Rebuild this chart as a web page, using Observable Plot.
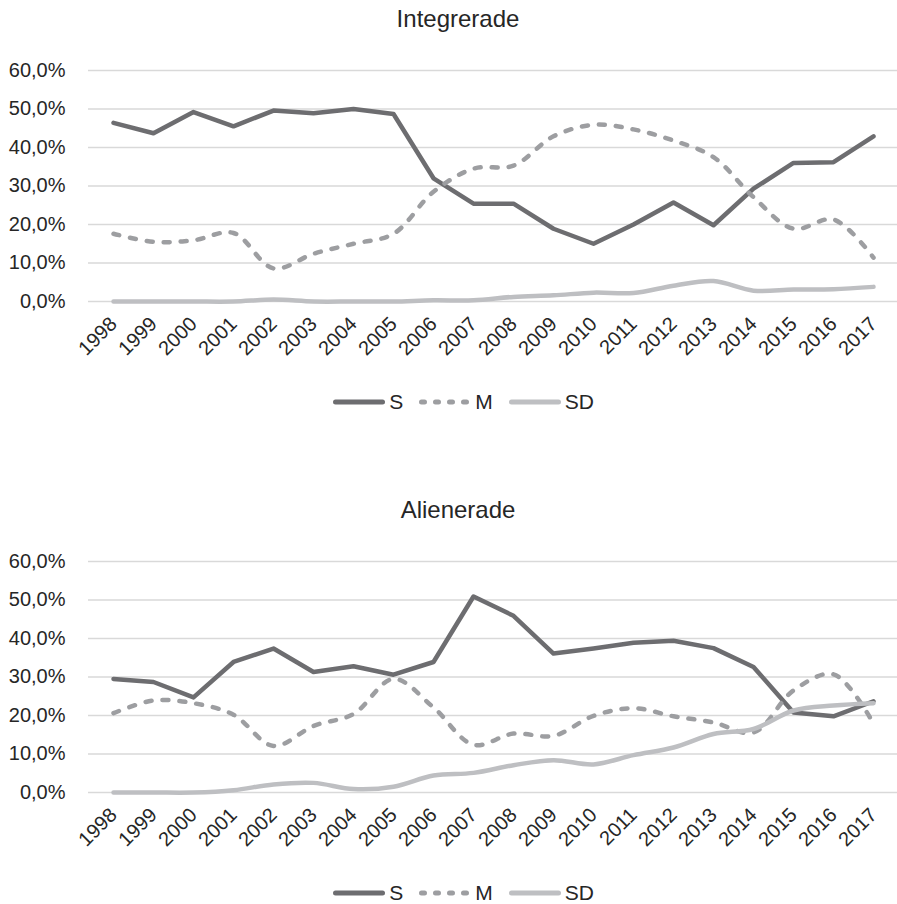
<!DOCTYPE html>
<html>
<head>
<meta charset="utf-8">
<script src="https://cdn.jsdelivr.net/npm/d3@7"></script>
<script src="https://cdn.jsdelivr.net/npm/@observablehq/plot@0.6"></script>
<style>
  html, body { margin: 0; padding: 0; background: #fff; overflow: hidden; }
  body { width: 897px; font-family: "Liberation Sans", Arial, sans-serif; color: #262626; }
  .block { position: relative; width: 897px; }
  .title { height: 38px; line-height: 38px; font-size: 24px; text-align: center; padding-left: 19px; box-sizing: border-box; }
  .legend { display: flex; justify-content: center; align-items: center; padding-left: 30px; box-sizing: border-box; font-size: 21px; height: 24px; }
  .legend .item { display: flex; align-items: center; margin: 0 8px; }
  .legend .item span { margin-left: 4px; }
  svg { display: block; }
</style>
</head>
<body>
<div id="root"></div>
<script>
const years = [1998,1999,2000,2001,2002,2003,2004,2005,2006,2007,2008,2009,2010,2011,2012,2013,2014,2015,2016,2017];

// Integrerade (%)
const intS  = [46.4,43.7,49.2,45.5,49.6,48.9,50.0,48.7,32.0,25.4,25.4,18.9,15.0,20.0,25.7,19.8,29.3,36.0,36.2,42.9];
const intM  = [17.6,15.5,15.9,17.8,8.6,12.4,15.0,17.6,28.5,34.5,35.3,42.9,45.9,44.7,41.8,37.5,27.1,18.9,21.3,11.4];
const intSD = [0.0,0.0,0.0,0.0,0.5,0.0,0.0,0.0,0.3,0.3,1.2,1.6,2.3,2.2,4.1,5.3,2.8,3.1,3.2,3.8];

// Alienerade (%)
const aliS  = [29.5,28.7,24.7,33.9,37.4,31.3,32.8,30.6,33.9,50.9,45.9,36.1,37.4,38.9,39.4,37.5,32.6,20.8,19.8,23.7];
const aliM  = [20.6,23.9,23.2,20.2,12.1,17.3,20.4,29.5,22.1,12.4,15.3,14.7,19.9,21.9,19.8,18.2,15.6,26.5,30.7,17.9];
const aliSD = [0.0,0.0,0.0,0.6,2.1,2.5,0.9,1.5,4.4,5.1,7.1,8.4,7.3,9.7,11.7,15.2,16.5,21.3,22.6,23.2];

const yTicks = [0,10,20,30,40,50,60];
const seriesNames = ["S","M","SD"];
const titles = ["Integrerade","Alienerade"];

const colors = {S: "#6d6d70", M: "#9d9ea1", SD: "#bebfc2"};
const fmt = d => d.toFixed(1).replace(".", ",") + "%";

function rows(vals) { return years.map((y, i) => ({year: String(y), value: vals[i]})); }

function chart(s, m, sd) {
  return Plot.plot({
    width: 897, height: 324,
    marginLeft: 88, marginRight: 0, marginTop: 32, marginBottom: 61,
    style: {fontFamily: "'Liberation Sans', Arial, sans-serif", fontSize: "20px", color: "#262626", background: "white", overflow: "visible"},
    x: {type: "point", domain: years.map(String), padding: 0.5, label: null, tickSize: 0, tickRotate: -45, tickPadding: 19},
    y: {domain: [0, 60], ticks: yTicks, tickFormat: fmt, label: null, tickSize: 0, tickPadding: 23},
    marks: [
      Plot.ruleY(yTicks, {stroke: "#d9d9d9", strokeWidth: 1.5}),
      Plot.line(rows(s), {x: "year", y: "value", stroke: colors.S, strokeWidth: 4.5, strokeLinejoin: "round", strokeLinecap: "round"}),
      Plot.line(rows(m), {x: "year", y: "value", stroke: colors.M, strokeWidth: 4.5, strokeDasharray: "6,11", strokeLinecap: "round", curve: "catmull-rom"}),
      Plot.line(rows(sd), {x: "year", y: "value", stroke: colors.SD, strokeWidth: 4.5, strokeLinejoin: "round", strokeLinecap: "round", curve: "catmull-rom"})
    ]
  });
}

function legend() {
  const div = document.createElement("div");
  div.className = "legend";
  const dash = {S: null, M: "3,11", SD: null};
  for (const name of seriesNames) {
    const item = document.createElement("span");
    item.className = "item";
    const ns = "http://www.w3.org/2000/svg";
    const svg = document.createElementNS(ns, "svg");
    svg.setAttribute("width", 52); svg.setAttribute("height", 10);
    const line = document.createElementNS(ns, "line");
    line.setAttribute("x1", 2.5); line.setAttribute("x2", 49.5);
    line.setAttribute("y1", 5); line.setAttribute("y2", 5);
    line.setAttribute("stroke", colors[name]);
    line.setAttribute("stroke-width", 5);
    line.setAttribute("stroke-linecap", "round");
    if (dash[name]) line.setAttribute("stroke-dasharray", dash[name]);
    svg.appendChild(line);
    item.appendChild(svg);
    const t = document.createElement("span");
    t.textContent = name;
    item.appendChild(t);
    div.appendChild(item);
  }
  return div;
}

const root = document.getElementById("root");
const data = [[intS, intM, intSD], [aliS, aliM, aliSD]];
data.forEach((d, i) => {
  const block = document.createElement("div");
  block.className = "block";
  block.style.height = i === 0 ? "491px" : "413px";
  const title = document.createElement("div");
  title.className = "title";
  title.textContent = titles[i];
  block.appendChild(title);
  block.appendChild(chart(d[0], d[1], d[2]));
  const lg = legend();
  lg.style.marginTop = "28px";
  block.appendChild(lg);
  root.appendChild(block);
});
</script>
</body>
</html>
